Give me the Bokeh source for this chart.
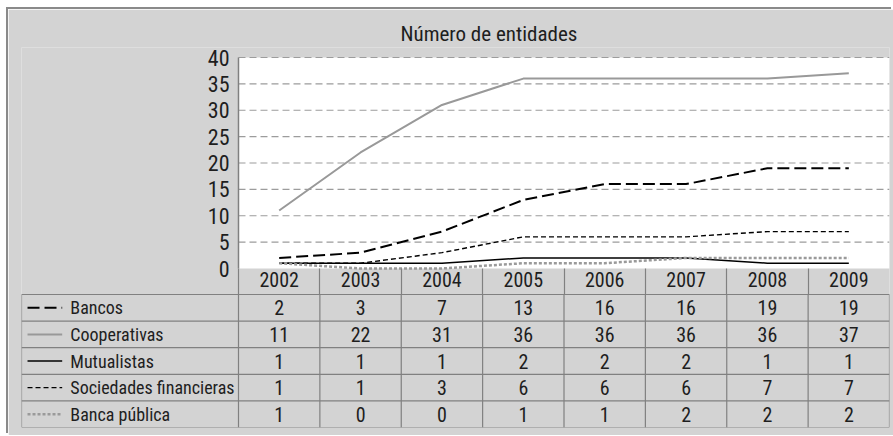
from bokeh.plotting import figure
from bokeh.models import Range1d, FixedTicker, ColumnDataSource, BoxAnnotation
from bokeh.core.properties import value
from bokeh.embed import file_html
from bokeh.resources import INLINE

# ---- data ----
title_text = "Número de entidades"
years = ["2002", "2003", "2004", "2005", "2006", "2007", "2008", "2009"]
series_names = ["Bancos", "Cooperativas", "Mutualistas", "Sociedades financieras", "Banca pública"]
bancos = [2, 3, 7, 13, 16, 16, 19, 19]
cooperativas = [11, 22, 31, 36, 36, 36, 36, 37]
mutualistas = [1, 1, 1, 2, 2, 2, 1, 1]
sociedades_financieras = [1, 1, 3, 6, 6, 6, 7, 7]
banca_publica = [1, 0, 0, 1, 1, 2, 2, 2]
y_ticks = [0, 5, 10, 15, 20, 25, 30, 35, 40]

series_values = [bancos, cooperativas, mutualistas, sociedades_financieras, banca_publica]

# ---- styles ----
FONT = "'Roboto Condensed', 'DejaVu Sans Condensed', sans-serif"
BG = "#d3d3d3"
LINEGRAY = "#808080"
TXT = "#1e1e1e"
styles = [
    dict(line_color="black", line_dash="12 5", line_width=2),
    dict(line_color="#999999", line_dash="solid", line_width=2),
    dict(line_color="black", line_dash="solid", line_width=1.5),
    dict(line_color="black", line_dash="5 3", line_width=1.4),
    dict(line_color="#9a9a9a", line_dash="3 2", line_width=2.5),
]

# ---- layout geometry (pixels) ----
W, H = 885, 426
B_LEFT, B_RIGHT, B_TOP, B_BOTTOM = 13, 4, 38, 8
PAD_TOP_PX = 10             # frame space above the plot area (room for the "40" label)
PLOT_LEFT_PX = 217          # label column width (frame left -> plot area left)
PLOT_H_PX = 211             # plot area height
HEADER_PX = 26              # header row (years)
frame_w = W - B_LEFT - B_RIGHT
frame_h = H - B_TOP - B_BOTTOM
table_h = frame_h - PAD_TOP_PX - PLOT_H_PX - HEADER_PX

n = len(years)
nrows = len(series_names)
xc = [i + 0.5 for i in range(n)]
col_px = (frame_w - PLOT_LEFT_PX) / n
L = PLOT_LEFT_PX / col_px
ymax = y_ticks[-1]
unit = ymax / PLOT_H_PX
y_top = ymax + PAD_TOP_PX * unit
y_bottom = -(HEADER_PX + table_h) * unit
table_top = frame_h / table_h * nrows

p = figure(width=W, height=H, x_range=Range1d(-L, n), y_range=Range1d(y_bottom, y_top),
           output_backend="svg", toolbar_location=None,
           min_border_left=B_LEFT, min_border_right=B_RIGHT,
           min_border_top=B_TOP, min_border_bottom=B_BOTTOM,
           background_fill_color=BG, border_fill_color=BG, outline_line_color=None,
           margin=(9, 0, 0, 8), styles={"box-shadow": "-2px -2px 0 0 #8a8a8a"})
p.extra_y_ranges = {"table": Range1d(0, table_top)}
p.xgrid.visible = False
p.ygrid.visible = False

p.title.text = title_text
p.title.text_font = FONT
p.title.text_font_size = "21px"
p.title.text_font_style = "normal"
p.title.text_color = TXT
p.title.align = "left"
p.title.offset = 379
p.title.standoff = 4

# white plot area
p.add_layout(BoxAnnotation(left=0, right=n, bottom=0, top=ymax, fill_color="white",
                           fill_alpha=1, line_color=None, level="underlay"))

# y axis at the plot area's left edge
ya = p.yaxis[0]
ya.fixed_location = 0
ya.bounds = (0, ymax)
ya.ticker = FixedTicker(ticks=y_ticks)
ya.major_label_text_font = FONT
ya.major_label_text_font_size = "22px"
ya.major_label_text_color = TXT
ya.axis_line_color = LINEGRAY
ya.axis_line_width = 1.5
ya.major_tick_in = 0
ya.major_tick_out = 0
ya.minor_tick_line_color = None
ya.major_label_standoff = 9

# x axis = header row of the data table
xa = p.xaxis[0]
xa.fixed_location = 0
xa.bounds = (0, n)
xa.ticker = FixedTicker(ticks=xc, minor_ticks=list(range(n)))
xa.major_label_overrides = {xc[i]: years[i] for i in range(n)}
xa.major_label_text_font = FONT
xa.major_label_text_font_size = "20px"
xa.major_label_text_color = TXT
xa.axis_line_color = None
xa.major_tick_in = 0
xa.major_tick_out = 0
xa.minor_tick_in = 0
xa.minor_tick_out = HEADER_PX
xa.minor_tick_line_color = LINEGRAY
xa.minor_tick_line_width = 1.2
xa.major_label_standoff = -23

# dashed horizontal gridlines across the plot area
gt = y_ticks[1:]
p.segment(x0=[0] * len(gt), x1=[n] * len(gt), y0=gt, y1=gt,
          line_color="#9c9c9c", line_dash="7 4", line_width=1.2)

for vals, st in zip(series_values, styles):
    p.line(x=xc, y=vals, line_join="round", **st)

# ---- data table ----
hy = list(range(nrows + 1))
p.segment(x0=[-L] * len(hy), x1=[n] * len(hy), y0=hy, y1=hy,
          line_color=LINEGRAY, line_width=1.2, y_range_name="table")
vx = list(range(1, n + 1))
p.segment(x0=vx, x1=vx, y0=[0] * len(vx), y1=[nrows] * len(vx),
          line_color=LINEGRAY, line_width=1.2, y_range_name="table")
p.segment(x0=[-L, 0], x1=[-L, 0], y0=[0, 0], y1=[nrows, nrows],
          line_color=LINEGRAY, line_width=1.2, y_range_name="table")

tx, ty, tt = [], [], []
for r, vals in enumerate(series_values):
    for i, v in enumerate(vals):
        tx.append(xc[i])
        ty.append(nrows - r - 0.5)
        tt.append(str(v))
p.text(x="x", y="y", text="t", source=ColumnDataSource(dict(x=tx, y=ty, t=tt)),
       text_align="center", text_baseline="middle", text_font=value(FONT),
       text_font_size="20px", text_color=TXT, y_range_name="table")

row_y = [nrows - r - 0.5 for r in range(nrows)]
p.text(x=[-L + 0.60] * nrows, y=row_y, text=series_names,
       text_align="left", text_baseline="middle", text_font=value(FONT),
       text_font_size="18px", text_color=TXT, y_range_name="table")

for r, st in enumerate(styles):
    p.line(x=[-L + 0.074, -L + 0.50], y=[row_y[r], row_y[r]], y_range_name="table", **st)

open("out.html", "w").write(file_html(p, INLINE))
